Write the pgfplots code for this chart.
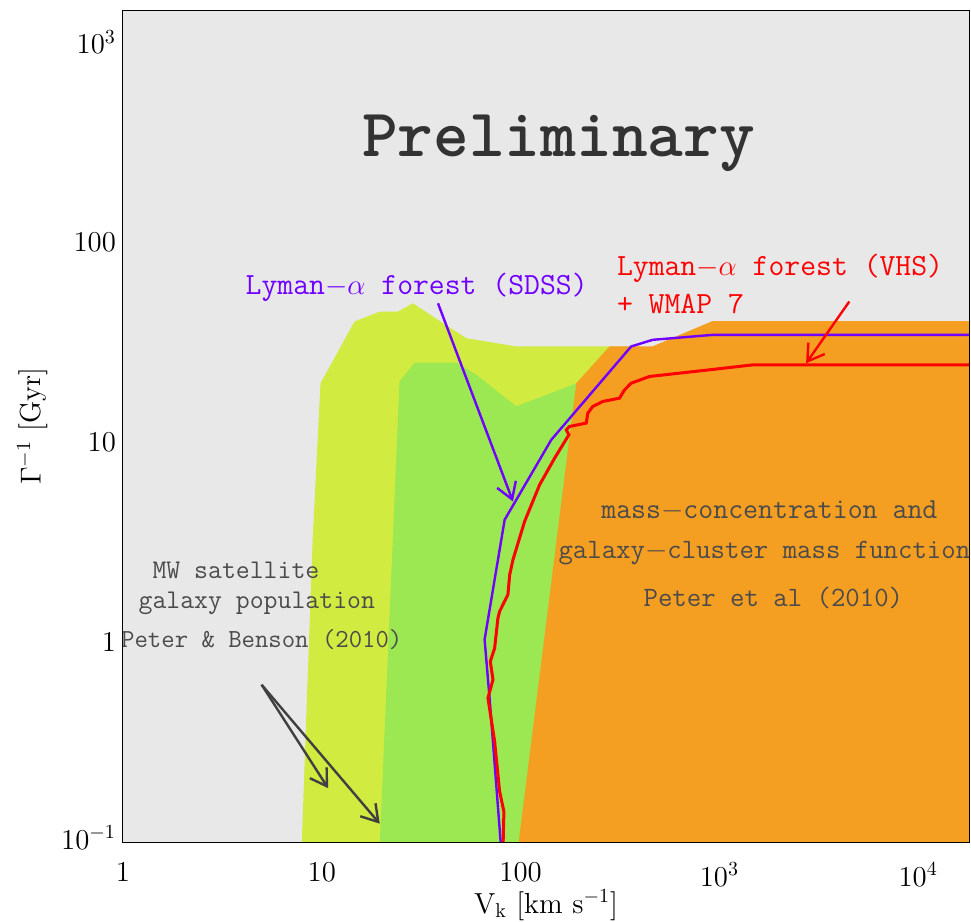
\documentclass[border=0pt]{standalone}
\usepackage{pgfplots}
\pgfplotsset{compat=1.18}
\usetikzlibrary{arrows.meta}
\definecolor{bggrey}{RGB}{232,232,232}
\definecolor{ygreen}{RGB}{210,235,64}
\definecolor{lgreen}{RGB}{155,232,83}
\definecolor{orng}{RGB}{244,158,34}
\definecolor{purp}{RGB}{112,0,255}
\definecolor{txtgrey}{RGB}{75,75,75}
\definecolor{prelgrey}{RGB}{51,51,51}
\definecolor{arrgrey}{RGB}{64,64,64}
\begin{document}
\begin{tikzpicture}
\begin{axis}[
  scale only axis, width=423pt, height=416pt,
  xmode=log, ymode=log,
  xmin=1, xmax=1.8e4, ymin=0.1, ymax=1450,
  axis on top,
  axis background/.style={fill=bggrey},
  axis line style={line width=0.5pt},
  major tick length=0pt, minor tick length=0pt,
  xtick={1,10,100,1000,10000}, xticklabels={$1$,$10$,$100$,$10^3$,$10^4$},
  ytick={0.1,1,10,100,1000}, yticklabels={\raisebox{4.5pt}{$10^{-1}$},$1$,$10$,$100$,$10^3$},
  tick label style={font=\fontsize{14.5}{16}\selectfont},
  xticklabel style={yshift=-7pt},
  xlabel={V$_{\mathrm{k}}$ [km s$^{-1}$]},
  ylabel={$\Gamma^{-1}$ [Gyr]},
  label style={font=\fontsize{14.5}{16}\selectfont},
  xlabel style={at={(axis description cs:0.5,-0.0854)}, anchor=base},
  ylabel style={at={(axis description cs:-0.107,0.5)}, anchor=center},
]
% MW satellite outer region
\addplot[fill=ygreen, draw=none] coordinates {
 (7.9,0.09) (9.0,3.31) (9.85,19.7) (14.6,40.1) (19.6,45.0) (24.2,45.0) (28.7,49.5)
 (40.7,39.4) (53.3,33.1) (95.1,30.1) (400,30.1) (400,0.09)};
% MW satellite inner region
\addplot[fill=lgreen, draw=none] coordinates {
 (19.5,0.09) (24.6,20.1) (29.3,25.0) (47.5,25.0) (59.9,21.7) (95.1,15.1)
 (190.5,19.7) (300,19.7) (300,0.09)};
% mass-concentration region
\addplot[fill=orng, draw=none] coordinates {
 (96.5,0.09) (190.5,19.7) (280,30.1) (460,30.1) (922,40.3) (3e4,40.3) (3e4,0.09)};
% Lyman-alpha SDSS
\addplot[purp, line width=1.2pt] coordinates {
 (80,0.09) (69.9,0.515) (65.9,1.03) (83.1,4.09) (142.6,10.27) (359.8,30.1)
 (462,32.5) (925,34.4) (3e4,34.4)};
% Lyman-alpha VHS + WMAP7
\addplot[red, line width=1.5pt] coordinates {
 (81.5,0.09) (82.4,0.142) (78.4,0.179) (74.0,0.319) (68.5,0.525) (72.6,0.648)
 (70.4,0.80) (74.0,0.933) (76.9,1.318) (78.4,1.424) (86.3,1.724) (88.1,2.17)
 (91.5,2.58) (104.7,4.01) (124.6,6.12) (148.3,8.32) (174.9,10.88) (169.7,11.52)
 (176.3,11.98) (213.8,12.45) (217.8,13.96) (230.7,15.09) (259.2,15.98)
 (314.5,16.6) (333.1,18.26) (359.8,19.72) (444.6,21.3) (890.7,23.0)
 (1469,24.35) (3e4,24.35)};
% arrows
\addplot[purp, line width=1.2pt, -{Straight Barb[length=8pt,width=10pt]}] coordinates {(38.4,49.5) (91.5,5.05)};
\addplot[red, line width=1.2pt, -{Straight Barb[length=8pt,width=10pt]}] coordinates {(4500,50.5) (2728,24.8)};
\addplot[arrgrey, line width=1.2pt, -{Straight Barb[length=8pt,width=10pt]}] coordinates {(4.98,0.612) (10.76,0.186)};
\addplot[arrgrey, line width=1.2pt, -{Straight Barb[length=8pt,width=10pt]}] coordinates {(4.98,0.612) (19.56,0.1235)};
% texts
\node[anchor=base, text=prelgrey, font=\ttfamily\bfseries\fontsize{34}{40}\selectfont] at (axis cs:155,269) {Preliminary};
\node[anchor=base, text=purp, font=\ttfamily\fontsize{15.4}{18}\selectfont] at (axis cs:30,55) {Lyman$-\alpha$ forest (SDSS)};
\node[anchor=base west, inner sep=0pt, text=red, font=\ttfamily\fontsize{15.4}{18}\selectfont] at (axis cs:304,68) {Lyman$-\alpha$ forest (VHS)};
\node[anchor=base west, inner sep=0pt, text=red, font=\ttfamily\fontsize{15.4}{18}\selectfont] at (axis cs:304,44) {+ WMAP 7};
\node[anchor=base, text=txtgrey, font=\ttfamily\fontsize{13.5}{16}\selectfont] at (axis cs:3.70,2.09) {MW satellite};
\node[anchor=base, text=txtgrey, font=\ttfamily\fontsize{13.5}{16}\selectfont] at (axis cs:4.71,1.479) {galaxy population};
\node[anchor=base, text=txtgrey, font=\ttfamily\fontsize{13}{16}\selectfont] at (axis cs:4.99,0.9408) {Peter \& Benson (2010)};
\node[anchor=base, text=txtgrey, font=\ttfamily\fontsize{14.5}{17}\selectfont] at (axis cs:1783,4.135) {mass$-$concentration and};
\node[anchor=base, text=txtgrey, font=\ttfamily\fontsize{14}{17}\selectfont] at (axis cs:1683,2.63) {galaxy$-$cluster mass function};
\node[anchor=base, text=txtgrey, font=\ttfamily\fontsize{14}{17}\selectfont] at (axis cs:1868,1.508) {Peter et al (2010)};
\end{axis}
\pgfresetboundingbox
\path ([shift={(-61.5pt,-39.5pt)}]current axis.south west) rectangle ([shift={(1pt,5pt)}]current axis.north east);
\end{tikzpicture}
\end{document}
